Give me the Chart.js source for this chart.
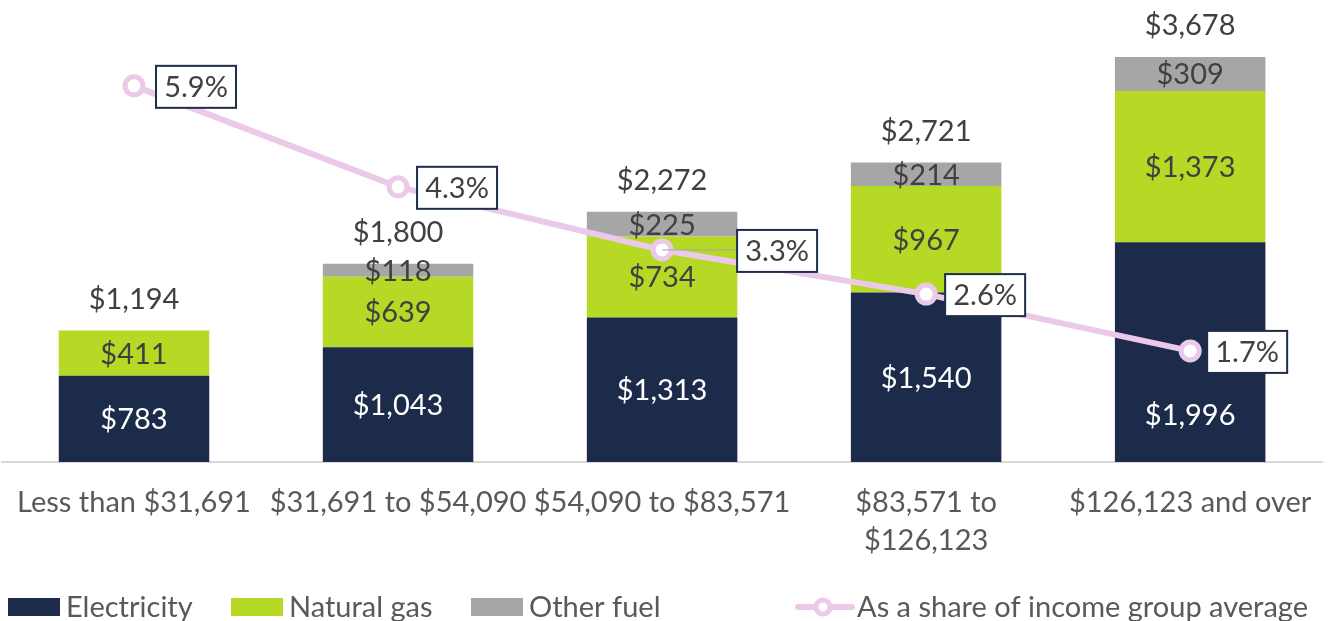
<!DOCTYPE html>
<html><head><meta charset="utf-8">
<script src="https://cdn.jsdelivr.net/npm/chart.js@4/dist/chart.umd.min.js"></script>
<style>html,body{margin:0;padding:0;background:#fff;overflow:hidden}#wrap{width:1330px;height:621px;overflow:hidden}#c{display:block;margin-left:-4px}</style>
</head><body><div id="wrap"><canvas id="c" width="1337" height="621"></canvas></div>
<script>
const categories = ["Less than $31,691", "$31,691 to $54,090", "$54,090 to $83,571", ["$83,571 to", "$126,123"], "$126,123 and over"];
const electricity = [783, 1043, 1313, 1540, 1996];
const naturalGas = [411, 639, 734, 967, 1373];
const otherFuel = [0, 118, 225, 214, 309];
const totals = [1194, 1800, 2272, 2721, 3678];
const shareOfIncome = [5.9, 4.3, 3.3, 2.6, 1.7];

const FONT = "Lato, 'Open Sans', sans-serif";
const FS = 29;
const SHIFT = 4; // canvas is offset 4px left inside the page
const boxOffsets = [22, 19, 75, 19, 17];
// manual label nudges (dataset -> category -> pixel shift), as in the source chart
const labelNudges = {0: {4: 63}};

const labelPlugin = {
  id: 'labels',
  afterDatasetsDraw(chart) {
    const ctx = chart.ctx;
    ctx.save();
    ctx.font = FS + "px " + FONT;
    ctx.textAlign = 'center';
    ctx.textBaseline = 'middle';
    const colors = ['#ffffff', '#404040', '#404040'];
    const fmt = v => '$' + v.toLocaleString('en-US');
    for (let d = 0; d < 3; d++) {
      const meta = chart.getDatasetMeta(d);
      const data = chart.data.datasets[d].data;
      meta.data.forEach((el, i) => {
        if (!data[i]) return;
        const nudge = (labelNudges[d] && labelNudges[d][i]) || 0;
        ctx.fillStyle = colors[d];
        ctx.fillText(fmt(data[i]), el.x, (el.y + el.base) / 2 + 1 + nudge);
      });
    }
    const yS = chart.scales.y;
    const m0 = chart.getDatasetMeta(0);
    totals.forEach((t, i) => {
      ctx.fillStyle = '#404040';
      ctx.fillText(fmt(t), m0.data[i].x, yS.getPixelForValue(t) - 31);
    });
    const lm = chart.getDatasetMeta(3);
    lm.data.forEach((p, i) => {
      const txt = shareOfIncome[i].toFixed(1) + '%';
      const w = 80, h = 42;
      const x0 = p.x + boxOffsets[i];
      const y0 = p.y - h / 2 + 1;
      if (boxOffsets[i] > 40) {
        ctx.strokeStyle = '#A6A6A6'; ctx.lineWidth = 1;
        ctx.beginPath(); ctx.moveTo(p.x, p.y); ctx.lineTo(x0, p.y); ctx.stroke();
      }
      ctx.fillStyle = '#fff';
      ctx.fillRect(x0, y0, w, h);
      ctx.strokeStyle = '#1F2D4D'; ctx.lineWidth = 2;
      ctx.strokeRect(x0, y0, w, h);
      ctx.fillStyle = '#404040';
      ctx.fillText(txt, x0 + w / 2, y0 + h / 2 + 1);
    });
    ctx.restore();
  },
  afterDraw(chart) {
    const ctx = chart.ctx;
    ctx.save();
    ctx.translate(SHIFT, 0);
    ctx.font = FS + "px " + FONT;
    ctx.textBaseline = 'middle';
    ctx.textAlign = 'left';
    const yc = 607;
    const items = [
      {x: 8, color: '#1C2B4A', text: 'Electricity'},
      {x: 231, color: '#B5D925', text: 'Natural gas'},
      {x: 471, color: '#A6A6A6', text: 'Other fuel'}
    ];
    items.forEach(it => {
      ctx.fillStyle = it.color;
      ctx.fillRect(it.x, yc - 9, 52, 18);
      ctx.fillStyle = '#595959';
      ctx.fillText(it.text, it.x + 58, yc + 1);
    });
    ctx.strokeStyle = '#EBC9E9'; ctx.lineWidth = 6; ctx.lineCap = 'round';
    ctx.beginPath(); ctx.moveTo(798, yc); ctx.lineTo(852, yc); ctx.stroke();
    ctx.fillStyle = '#fff'; ctx.lineWidth = 5;
    ctx.beginPath(); ctx.arc(823, yc, 7, 0, Math.PI * 2); ctx.fill(); ctx.stroke();
    ctx.fillStyle = '#595959';
    ctx.fillText('As a share of income group average', 857, yc + 1);
    ctx.restore();
  }
};

new Chart(document.getElementById('c'), {
  data: {
    labels: categories,
    datasets: [
      {type: 'bar', label: 'Electricity', data: electricity, backgroundColor: '#1C2B4A', stack: 's', order: 2, yAxisID: 'y'},
      {type: 'bar', label: 'Natural gas', data: naturalGas, backgroundColor: '#B5D925', stack: 's', order: 2, yAxisID: 'y'},
      {type: 'bar', label: 'Other fuel', data: otherFuel, backgroundColor: '#A6A6A6', stack: 's', order: 2, yAxisID: 'y'},
      {type: 'line', label: 'As a share of income group average', data: shareOfIncome, yAxisID: 'y2', order: 1,
       borderColor: '#EBC9E9', borderWidth: 6, pointRadius: 9, pointBorderWidth: 5, pointBackgroundColor: '#fff',
       pointBorderColor: '#EBC9E9', tension: 0, clip: false}
    ]
  },
  options: {
    responsive: false,
    animation: false,
    devicePixelRatio: 1,
    layout: {autoPadding: false, padding: {left: 0, right: 2, top: 0, bottom: 0}},
    plugins: {legend: {display: false}, tooltip: {enabled: false}},
    datasets: {bar: {categoryPercentage: 1, barPercentage: 0.57}},
    scales: {
      x: {
        stacked: true,
        grid: {display: false, drawTicks: false},
        border: {display: true, color: '#D9D9D9', width: 2},
        ticks: {color: '#595959', font: {family: FONT, size: FS, lineHeight: 1.3}, padding: 22, maxRotation: 0, autoSkip: false},
        afterFit(scale) { scale.height = 159; }
      },
      y: {stacked: true, display: false, min: 0, max: 4196},
      y2: {display: false, min: -0.06, max: 7.26, position: 'right'}
    }
  },
  plugins: [labelPlugin]
});
</script></body></html>
